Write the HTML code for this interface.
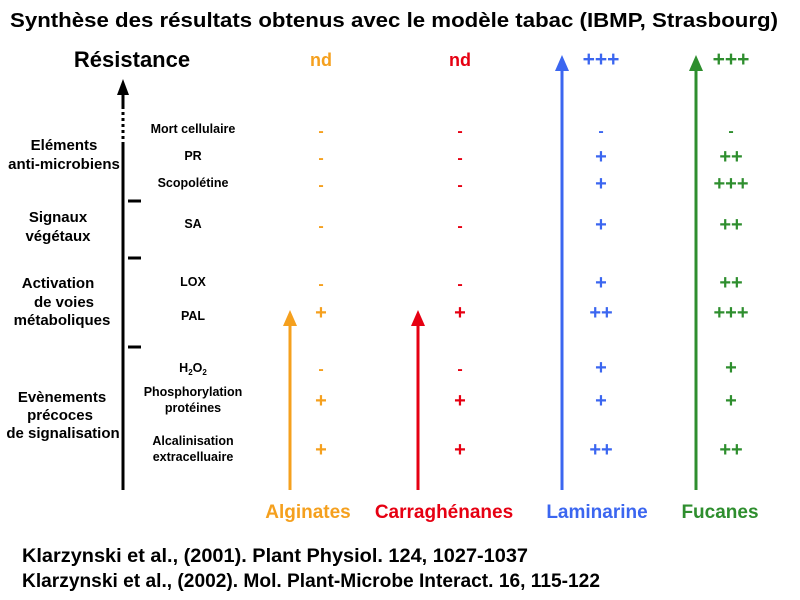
<!DOCTYPE html>
<html><head><meta charset="utf-8"><style>
body{margin:0;background:#fff}
svg{display:block;font-family:"Liberation Sans",Arial,sans-serif;font-weight:bold}
</style></head><body>
<svg id="chart" width="800" height="600" viewBox="0 0 800 600">
<text x="10" y="27" font-size="20" textLength="768" lengthAdjust="spacingAndGlyphs" fill="#000">Synthèse des résultats obtenus avec le modèle tabac (IBMP, Strasbourg)</text>
<text x="132" y="67" text-anchor="middle" font-size="22">Résistance</text>
<g>
<line x1="123" y1="142" x2="123" y2="490" stroke="#000" stroke-width="3"/>
<line x1="123" y1="106" x2="123" y2="142" stroke="#000" stroke-width="3" stroke-dasharray="3,3"/>
<line x1="123" y1="90" x2="123" y2="106" stroke="#000" stroke-width="3"/>
<polygon points="117,95 129,95 123,79" fill="#000"/>
<line x1="128" y1="201" x2="141" y2="201" stroke="#000" stroke-width="3"/>
<line x1="128" y1="258" x2="141" y2="258" stroke="#000" stroke-width="3"/>
<line x1="128" y1="347" x2="141" y2="347" stroke="#000" stroke-width="3"/>
</g>
<g font-size="15" text-anchor="middle">
<text x="64" y="150">Eléments</text><text x="64" y="169">anti-microbiens</text>
<text x="58" y="222">Signaux</text><text x="58" y="241">végétaux</text>
<text x="58" y="288">Activation</text><text x="64" y="307">de voies</text><text x="62" y="325">métaboliques</text>
<text x="62" y="402">Evènements</text><text x="60" y="420">précoces</text><text x="63" y="438">de signalisation</text>
</g>
<g id="items" font-size="12.5" text-anchor="middle"></g>
<g id="marks"></g>
<text x="22" y="562" font-size="19" textLength="506" lengthAdjust="spacingAndGlyphs">Klarzynski et al., (2001). Plant Physiol. 124, 1027-1037</text>
<text x="22" y="587" font-size="19" textLength="578" lengthAdjust="spacingAndGlyphs">Klarzynski et al., (2002). Mol. Plant-Microbe Interact. 16, 115-122</text>
</svg>
<script>
const rowLabels = [["Mort cellulaire"],["PR"],["Scopolétine"],["SA"],["LOX"],["PAL"],["H2O2"],["Phosphorylation","protéines"],["Alcalinisation","extracelluaire"]];
const rowY = [130,157,184,225,283,313,368,401,450];
const compounds = ["Alginates","Carraghénanes","Laminarine","Fucanes"];
const resistance = ["nd","nd","+++","+++"];
const alginates = ["-","-","-","-","-","+","-","+","+"];
const carraghenanes = ["-","-","-","-","-","+","-","+","+"];
const laminarine = ["-","+","+","+","+","++","+","+","++"];
const fucanes = ["-","++","+++","++","++","+++","+","+","++"];
const series=[alginates,carraghenanes,laminarine,fucanes];
const colors=["#F5A01E","#E60012","#3B66F0","#2E8E2E"];
const colX=[321,460,601,731];
const arrowX=[290,418,562,696];
const arrowTop=[310,310,55,55];
const labelX=[308,444,597,720];
const NS="http://www.w3.org/2000/svg";
const items=document.getElementById('items'), marks=document.getElementById('marks');
function mk(tag,attrs,parent){const e=document.createElementNS(NS,tag);for(const k in attrs)e.setAttribute(k,attrs[k]);parent.appendChild(e);return e;}
rowLabels.forEach((l,i)=>{
  if(l[0]==="H2O2"){
    const t=mk('text',{x:193,y:rowY[i]+4},items);
    
    
    t.innerHTML='H<tspan font-size="8" dy="3">2</tspan><tspan dy="-3">O</tspan><tspan font-size="8" dy="3">2</tspan>';
    return;
  }
  l.forEach((s,j)=>{
    const y=l.length===1?rowY[i]+(i===5?7:3):rowY[i]-5+j*16;
    const t=mk('text',{x:193,y:y},items);
    
    
    t.textContent=s;
  });
});
compounds.forEach((c,k)=>{
  const col=colors[k];
  const ln=mk('line',{x1:arrowX[k],y1:490,x2:arrowX[k],y2:arrowTop[k]+14,stroke:col,'stroke-width':3},marks);
  
  
  const p=mk('polygon',{points:`${arrowX[k]-7},${arrowTop[k]+16} ${arrowX[k]+7},${arrowTop[k]+16} ${arrowX[k]},${arrowTop[k]}`,fill:col},marks);
  
  
  const lb=mk('text',{x:labelX[k],y:518,'font-size':19,'text-anchor':'middle',fill:col},marks);
  
  
  lb.textContent=c;
  const r=mk('text',{x:colX[k],y:66,'font-size':resistance[k]==='nd'?18:21,'text-anchor':'middle',fill:col},marks);
  
  
  r.textContent=resistance[k];
  series[k].forEach((v,i)=>{
    const t=mk('text',{x:colX[k],y:rowY[i]+6,'font-size':v==='-'?16:20,'text-anchor':'middle',fill:col},marks);
    
    
    t.textContent=v;
  });
});
</script>
</body></html>
